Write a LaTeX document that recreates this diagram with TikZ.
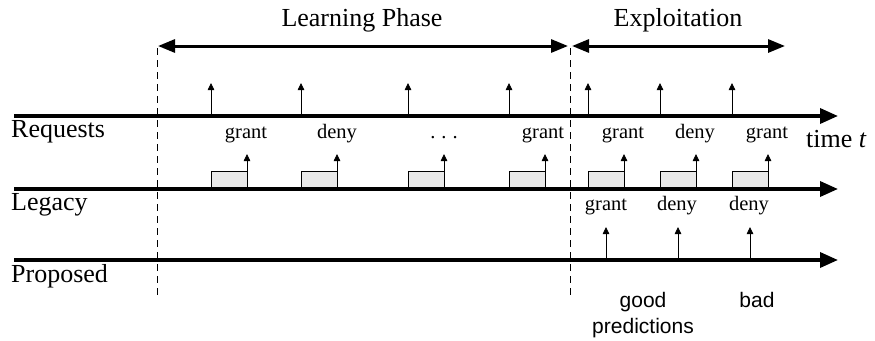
\documentclass[tikz,border=0pt]{standalone}
\usepackage{fontspec}
\setmainfont{Liberation Serif}
\newfontfamily\labsans{Liberation Sans}
\usetikzlibrary{arrows.meta}
\begin{document}
\begin{tikzpicture}[x=1pt,y=-1pt,
  axis/.style={line width=3.5pt,-{Triangle[length=18pt,width=15pt]}},
  phase/.style={line width=3pt,{Triangle[length=17pt,width=13pt]}-{Triangle[length=17pt,width=13pt]}},
  evt/.style={line width=0.8pt,-{Triangle[length=7pt,width=6.5pt]}},
  slot/.style={draw,line width=0.8pt,fill=gray!17},
  sep/.style={line width=0.8pt,dash pattern=on 7pt off 5pt},
  big/.style={font=\fontsize{26}{30}\selectfont,anchor=base,inner sep=0pt},
  small/.style={font=\fontsize{20.5}{24}\selectfont,anchor=base,inner sep=0pt},
  sanslab/.style={font=\labsans\fontsize{21}{25}\selectfont,anchor=base,inner sep=0pt}]
\useasboundingbox (0,0) rectangle (875,340);

% separators
\coordinate (s1t) at (157,48); \coordinate (s1b) at (157,297);
\coordinate (s2t) at (570,48); \coordinate (s2b) at (570,297);
\draw[sep] (s1t) -- (s1b);
\draw[sep] (s2t) -- (s2b);

% phase arrows
\coordinate (lpL) at (158,46); \coordinate (lpR) at (568,46);
\coordinate (exL) at (572,46); \coordinate (exR) at (785,46);
\draw[phase] (lpL) -- (lpR);
\draw[phase] (exL) -- (exR);
\node[big] (lp) at (362,27) {Learning Phase};
\node[big] (ex) at (678,27) {Exploitation};

% axes
\coordinate (rqS) at (14,116); \coordinate (rqE) at (838,116);
\coordinate (lgS) at (14,189); \coordinate (lgE) at (838,189);
\coordinate (prS) at (14,260); \coordinate (prE) at (838,260);

% legacy slots and responses
\foreach \a/\b in {211/247,301/337,408/444,509/545,588/624,660/696,732/768}{
  \draw[slot] (\a,171) rectangle (\b,189);
  \coordinate (lb\b) at (\b,189); \coordinate (lt\b) at (\b,154);
  \draw[evt] (lb\b) -- (lt\b);
}

% request arrows
\foreach \a in {211,301,408,509,588,660,732}{
  \coordinate (rb\a) at (\a,116); \coordinate (rt\a) at (\a,83);
  \draw[evt] (rb\a) -- (rt\a);
}

% proposed arrows
\foreach \a in {606,678,750}{
  \coordinate (pb\a) at (\a,260); \coordinate (pt\a) at (\a,227);
  \draw[evt] (pb\a) -- (pt\a);
}

\draw[axis] (rqS) -- (rqE);
\draw[axis] (lgS) -- (lgE);
\draw[axis] (prS) -- (prE);

% row labels
\node[big,anchor=base west] (req) at (11,137) {Requests};
\node[big,anchor=base west] (leg) at (11,210) {Legacy};
\node[big,anchor=base west] (pro) at (11,282) {Proposed};
\node[big,anchor=base west] (time) at (806,147) {time \textit{t}};

% request decisions
\node[small] (d1) at (246,138) {grant};
\node[small] (d2) at (337,138) {deny};
\node[small] (d3) at (444,138) {.\hspace{6pt}.\hspace{6pt}.};
\node[small] (d4) at (543,138) {grant};
\node[small] (d5) at (623,138) {grant};
\node[small] (d6) at (695,138) {deny};
\node[small] (d7) at (767,138) {grant};

% legacy decisions
\node[small] (g1) at (606,210) {grant};
\node[small] (g2) at (677,210) {deny};
\node[small] (g3) at (749,210) {deny};

% evaluation
\node[sanslab] (good) at (643,307) {good};
\node[sanslab] (pred) at (643,333) {predictions};
\node[sanslab] (bad) at (757,307) {bad};
\end{tikzpicture}
\end{document}
